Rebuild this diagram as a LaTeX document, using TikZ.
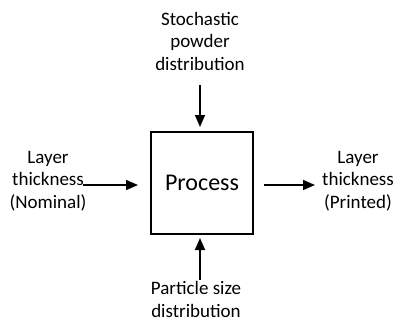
\documentclass[tikz,border=0pt]{standalone}
\usepackage{fontspec}
\setmainfont{Carlito}
\usetikzlibrary{arrows.meta}
\begin{document}
\begin{tikzpicture}[x=1pt,y=-1pt,
  lbl/.style={align=center,inner sep=0pt,font=\fontsize{19}{22.5}\selectfont},
  arr/.style={line width=1.6pt,-{Triangle[length=12pt,width=10pt]}},
  procbox/.style={draw,line width=1.8pt,minimum width=102pt,minimum height=102pt,inner sep=0pt,font=\fontsize{24}{28}\selectfont}]
\useasboundingbox (0,0) rectangle (394,322);
\node[procbox] (p) at (202,183) {Process};
\node[lbl] (top) at (200,41) {Stochastic\\powder\\distribution};
\node[lbl] (left) at (48,181) {Layer\\thickness\\(Nominal)};
\node[lbl] (right) at (358,181) {Layer\\thickness\\(Printed)};
\node[lbl] (bot) at (196,299.5) {Particle size\\distribution};
\coordinate (ts) at (200,85);
\coordinate (te) at (200,127);
\coordinate (bs) at (200,280);
\coordinate (be) at (200,238);
\coordinate (ls) at (83,185);
\coordinate (le) at (138,185);
\coordinate (rs) at (264,185);
\coordinate (re) at (315,185);
\draw[arr] (ts) -- (te);
\draw[arr] (bs) -- (be);
\draw[arr] (ls) -- (le);
\draw[arr] (rs) -- (re);
\end{tikzpicture}
\end{document}
